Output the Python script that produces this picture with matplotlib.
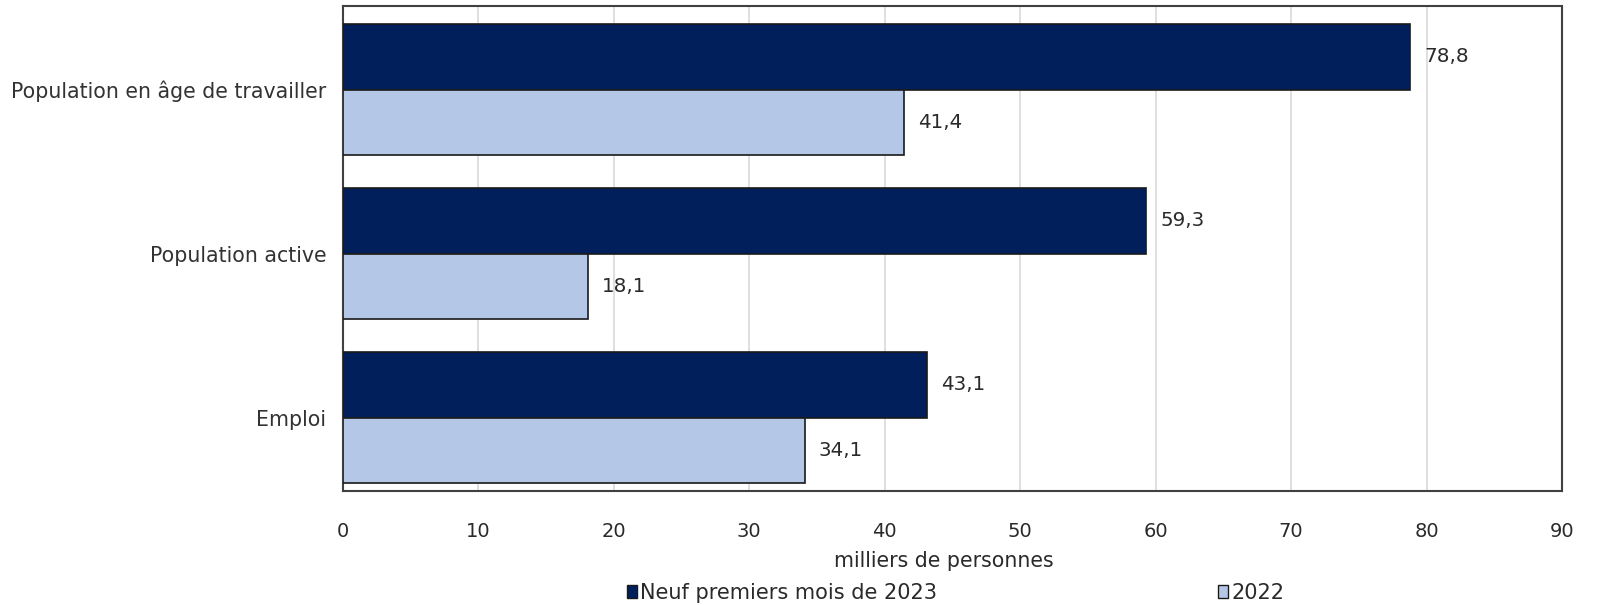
import matplotlib
matplotlib.use("Agg")
import matplotlib.pyplot as plt
from matplotlib.patches import Patch
import numpy as np

categories = ["Population en âge de travailler", "Population active", "Emploi"]
series_names = ["Neuf premiers mois de 2023", "2022"]
values_2023 = [78.8, 59.3, 43.1]
values_2022 = [41.4, 18.1, 34.1]
x_ticks = [0, 10, 20, 30, 40, 50, 60, 70, 80, 90]

dark = "#001F5B"
light = "#B4C7E7"
edge = "#1a1a1a"

plt.rcParams["font.family"] = ["DejaVu Sans"]

fig = plt.figure(figsize=(15.98, 6.05), dpi=100)
ax = fig.add_axes([0.2146, 0.1884, 0.9775 - 0.2146, 0.990 - 0.1884])

y = np.arange(len(categories))
h = 0.4
b1 = ax.barh(y - h / 2, values_2023, height=h, color=dark, edgecolor=edge, linewidth=1.2, zorder=3)
b2 = ax.barh(y + h / 2, values_2022, height=h, color=light, edgecolor=edge, linewidth=1.2, zorder=3)

def fmt(v):
    return f"{v:.1f}".replace(".", ",")

for bars, vals in ((b1, values_2023), (b2, values_2022)):
    for rect, v in zip(bars, vals):
        ax.annotate(fmt(v), (v, rect.get_y() + rect.get_height() / 2),
                    xytext=(10, 0), textcoords="offset points",
                    va="center", ha="left", fontsize=14.3, color="#2a2a2a")

ax.set_ylim(2.448, -0.509)
ax.set_xlim(0, 90)
ax.set_xticks(x_ticks)
ax.set_xticklabels([str(t) for t in x_ticks], fontsize=14, color="#2a2a2a")
ax.set_yticks(y)
ax.set_yticklabels(categories, fontsize=14.8, color="#333333")
ax.tick_params(axis="both", length=0)
ax.tick_params(axis="y", pad=12)
ax.tick_params(axis="x", pad=22)
ax.xaxis.grid(True, color="#d9d9d9", linewidth=1.2, zorder=0)
ax.set_axisbelow(True)
for s in ax.spines.values():
    s.set_color("#404040")
    s.set_linewidth(1.5)

ax.set_xlabel("milliers de personnes", fontsize=14.8, color="#2a2a2a", labelpad=7.5)
ax.xaxis.label.set_x(0.493)

handles = [Patch(facecolor=dark, edgecolor=edge, linewidth=1.0),
           Patch(facecolor=light, edgecolor=edge, linewidth=1.0)]
fig.legend(handles, series_names, loc="center", bbox_to_anchor=(0.598, 0.02),
           ncol=2, frameon=False, fontsize=15.0, handlelength=0.5, handleheight=0.6,
           handletextpad=0.15, columnspacing=13.45, labelcolor="#2a2a2a")

fig.savefig("out.png", dpi=100)
